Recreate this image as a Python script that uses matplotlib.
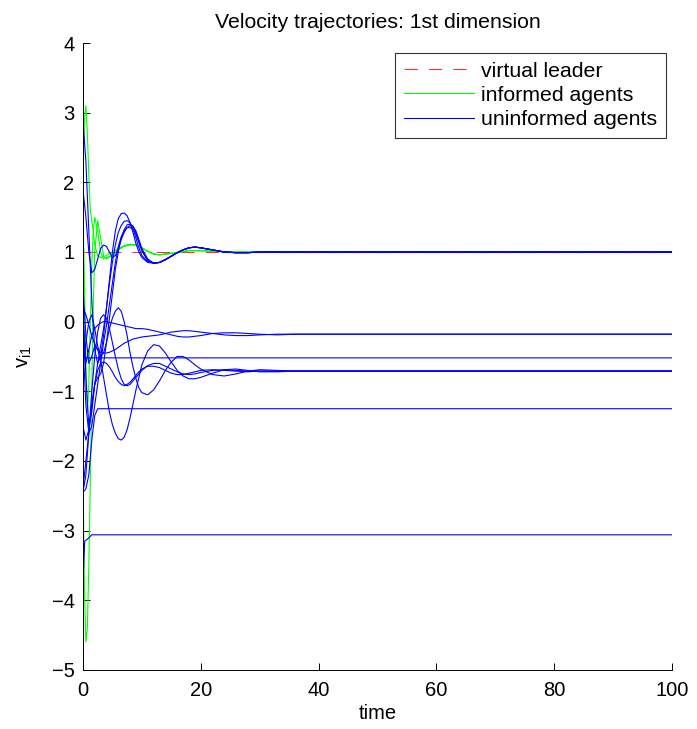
import matplotlib
matplotlib.use("Agg")
import matplotlib.pyplot as plt

plt.rcParams['font.family'] = ['Liberation Sans', 'DejaVu Sans']
plt.rcParams['mathtext.default'] = 'regular'

# shared time grid for the oscillating agents
t_osc = [0, 0.5, 1, 1.5, 2, 2.5, 3, 3.5, 4, 4.5, 5, 5.5, 6, 6.5, 7, 7.5, 8, 8.5, 9, 9.5,
         10, 11, 12, 13, 14, 15, 16, 17, 18, 19, 20, 22, 24, 26, 28, 30, 33, 36, 40, 100]

# uninformed agents that end at the leader velocity
a1 = [2.9, 2.3, 1.3, 0.3, -0.4, -0.6, -0.5, -0.2, 0.2, 0.6, 1.0, 1.3, 1.48, 1.55, 1.56, 1.52, 1.42, 1.28, 1.12, 1.0,
      0.92, 0.85, 0.84, 0.85, 0.89, 0.94, 0.99, 1.03, 1.06, 1.07, 1.06, 1.03, 1.0, 0.99, 0.99, 1.0, 1.0, 1.0, 1.0, 1.0]
a2 = [0.3, -0.8, -1.5, -1.3, -0.9, -0.6, -0.35, -0.1, 0.2, 0.55, 0.85, 1.1, 1.28, 1.38, 1.44, 1.45, 1.42, 1.33, 1.2, 1.06,
      0.95, 0.86, 0.84, 0.85, 0.89, 0.94, 0.99, 1.03, 1.06, 1.07, 1.06, 1.03, 1.0, 0.99, 0.99, 1.0, 1.0, 1.0, 1.0, 1.0]
a3 = [-2.4, -2.0, -1.6, -1.2, -0.9, -0.8, -0.75, -0.6, -0.3, 0.05, 0.4, 0.75, 1.0, 1.2, 1.32, 1.39, 1.4, 1.37, 1.28, 1.15,
      1.02, 0.88, 0.84, 0.85, 0.89, 0.94, 0.99, 1.03, 1.06, 1.07, 1.06, 1.03, 1.0, 0.99, 0.99, 1.0, 1.0, 1.0, 1.0, 1.0]
a4 = [1.9, 1.5, 1.0, 0.7, 0.75, 0.9, 1.05, 1.1, 1.08, 1.0, 0.92, 0.95, 1.05, 1.18, 1.28, 1.35, 1.38, 1.37, 1.3, 1.18,
      1.05, 0.9, 0.84, 0.85, 0.89, 0.94, 0.99, 1.03, 1.06, 1.07, 1.06, 1.03, 1.0, 0.99, 0.99, 1.0, 1.0, 1.0, 1.0, 1.0]
a5 = [-0.3, -1.2, -1.6, -1.5, -1.2, -0.9, -0.6, -0.3, -0.05, 0.25, 0.55, 0.85, 1.08, 1.22, 1.3, 1.35, 1.35, 1.33, 1.25, 1.14,
      1.02, 0.88, 0.84, 0.85, 0.89, 0.94, 0.99, 1.03, 1.06, 1.07, 1.06, 1.03, 1.0, 0.99, 0.99, 1.0, 1.0, 1.0, 1.0, 1.0]

# uninformed agents settling near -0.71
d1 = [-0.7, -0.3, 0.0, 0.1, -0.1, -0.35, -0.5, -0.45, -0.3, -0.1, 0.05, 0.15, 0.2, 0.15, 0.0, -0.2, -0.45, -0.65, -0.82, -0.95,
      -1.02, -1.05, -0.98, -0.85, -0.7, -0.58, -0.5, -0.5, -0.55, -0.62, -0.68, -0.76, -0.78, -0.75, -0.71, -0.69, -0.7, -0.71, -0.71, -0.71]
d2 = [0.5, -0.2, -0.6, -0.5, -0.35, -0.4, -0.55, -0.8, -1.05, -1.3, -1.48, -1.6, -1.68, -1.7, -1.66, -1.55, -1.38, -1.18, -0.98, -0.8,
      -0.62, -0.42, -0.33, -0.35, -0.45, -0.58, -0.7, -0.78, -0.82, -0.82, -0.8, -0.74, -0.69, -0.68, -0.7, -0.72, -0.72, -0.71, -0.71, -0.71]
d3 = [-1.5, -1.7, -1.55, -1.2, -0.9, -0.7, -0.6, -0.58, -0.6, -0.65, -0.72, -0.8, -0.86, -0.9, -0.92, -0.9, -0.87, -0.82, -0.77, -0.72,
      -0.68, -0.64, -0.64, -0.66, -0.7, -0.74, -0.76, -0.76, -0.74, -0.72, -0.7, -0.69, -0.7, -0.71, -0.72, -0.71, -0.71, -0.71, -0.71, -0.71]
d4 = [-2.45, -2.2, -1.6, -1.0, -0.5, -0.15, 0.05, 0.1, 0.05, -0.1, -0.3, -0.5, -0.68, -0.82, -0.9, -0.92, -0.9, -0.85, -0.8, -0.75,
      -0.7, -0.63, -0.6, -0.6, -0.64, -0.68, -0.72, -0.75, -0.76, -0.75, -0.73, -0.7, -0.69, -0.7, -0.71, -0.71, -0.71, -0.71, -0.71, -0.71]

# uninformed agents settling near -0.18
b1 = [0.0, -0.6, -0.4, -0.2, -0.1, -0.05, -0.02, 0.0, 0.0, -0.01, -0.02, -0.03, -0.04, -0.05, -0.06, -0.07, -0.08, -0.09, -0.1, -0.1,
      -0.1, -0.11, -0.13, -0.15, -0.17, -0.19, -0.21, -0.22, -0.22, -0.21, -0.2, -0.17, -0.16, -0.16, -0.17, -0.18, -0.19, -0.18, -0.18, -0.18]
b2 = [0.2, 0.1, -0.05, -0.2, -0.32, -0.4, -0.44, -0.45, -0.45, -0.44, -0.42, -0.4, -0.37, -0.34, -0.31, -0.29, -0.27, -0.25, -0.24, -0.23,
      -0.22, -0.21, -0.2, -0.19, -0.17, -0.15, -0.14, -0.13, -0.13, -0.14, -0.15, -0.17, -0.19, -0.2, -0.2, -0.19, -0.18, -0.18, -0.18, -0.18]

# isolated uninformed agents (flat after a short transient)
c_t = [0, 0.3, 100]
c_v = [-0.3, -0.52, -0.52]
e_t = [0, 0.5, 1, 1.5, 2, 2.5, 100]
e_v = [-2.45, -2.4, -2.2, -1.7, -1.35, -1.25, -1.25]
f_t = [0, 0.3, 0.8, 1.5, 100]
f_v = [-3.75, -3.15, -3.12, -3.06, -3.06]

# informed agents
t_inf = [0, 0.25, 0.5, 0.75, 1, 1.25, 1.5, 1.75, 2, 2.5, 3, 3.5, 4, 5, 6, 7, 8, 9, 10, 11,
         12, 13, 14, 16, 18, 20, 22, 25, 30, 100]
g1 = [2.0, 2.9, 3.1, 2.7, 2.1, 1.6, 1.45, 1.3, 1.1, 0.95, 0.92, 0.93, 0.95, 1.0, 1.05, 1.09, 1.11, 1.1, 1.06, 1.01,
      0.97, 0.96, 0.97, 0.99, 1.02, 1.02, 1.01, 1.0, 1.0, 1.0]
g2 = [-2.2, -3.8, -4.6, -4.4, -3.5, -2.3, -1.0, 0.2, 1.0, 1.45, 1.2, 0.95, 0.9, 0.95, 1.04, 1.09, 1.11, 1.1, 1.06, 1.01,
      0.97, 0.96, 0.97, 0.99, 1.02, 1.02, 1.01, 1.0, 1.0, 1.0]
g3 = [1.6, 0.6, -0.6, -1.3, -0.9, 0.0, 0.8, 1.3, 1.5, 1.3, 1.0, 0.9, 0.92, 0.96, 1.03, 1.08, 1.1, 1.1, 1.06, 1.01,
      0.97, 0.96, 0.97, 0.99, 1.02, 1.02, 1.01, 1.0, 1.0, 1.0]

# virtual leader
leader_t = [0, 100]
leader_v = [1, 1]

fig = plt.figure(figsize=(6.97, 7.29), dpi=100)
ax = fig.add_axes([0.119, 0.081, 0.845, 0.860])

lw = 0.8
ax.plot(leader_t, leader_v, color='#ff3333', lw=lw, dashes=(12, 10), label='virtual leader')
for i, g in enumerate([g1, g2, g3]):
    ax.plot(t_inf, g, color='#00ff00', lw=lw, label='informed agents' if i == 0 else None)
blue = '#0000ff'
for i, v in enumerate([a1, a2, a3, a4, a5, d1, d2, d3, d4, b1, b2]):
    ax.plot(t_osc, v, color=blue, lw=lw, label='uninformed agents' if i == 0 else None)
ax.plot(c_t, c_v, color=blue, lw=lw)
ax.plot(e_t, e_v, color=blue, lw=lw)
ax.plot(f_t, f_v, color=blue, lw=lw)

ax.set_xlim(0, 100)
ax.set_ylim(-5, 4)
ax.set_xticks([0, 20, 40, 60, 80, 100])
ax.set_yticks(range(-5, 5))
ax.spines['top'].set_visible(False)
ax.spines['right'].set_visible(False)
for s in ['left', 'bottom']:
    ax.spines[s].set_linewidth(0.7)
ax.tick_params(direction='in', length=5, width=0.7, labelsize=14.5)
ax.tick_params(axis='x', pad=8)
ax.tick_params(axis='y', pad=6)

ax.set_title('Velocity trajectories: 1st dimension', fontsize=15.3, pad=11)
ax.set_xlabel('time', fontsize=14.5, labelpad=3)
ax.set_ylabel('$v_{i1}$', fontsize=14.5, labelpad=13)

leg = ax.legend(loc='upper right', fontsize=15.3, frameon=True, fancybox=False,
                handlelength=3.3, handletextpad=0.35, labelspacing=0.25, borderpad=0.4,
                borderaxespad=0, bbox_to_anchor=(0.990, 0.984))
leg.get_frame().set_edgecolor('black')
leg.get_frame().set_linewidth(0.8)

fig.savefig('out.png', dpi=100)
